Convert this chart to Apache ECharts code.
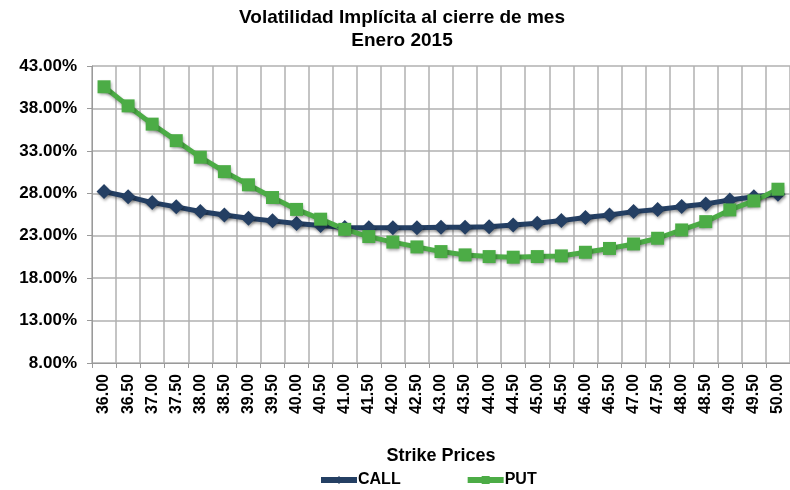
<!DOCTYPE html>
<html><head><meta charset="utf-8">
<script src="https://cdn.jsdelivr.net/npm/echarts@6/dist/echarts.min.js"></script>
<style>html,body{margin:0;padding:0;background:#fff}#c{width:790px;height:490px}</style>
</head><body><div id="c"></div>
<script>
var titleText = 'Volatilidad Implícita al cierre de mes\nEnero 2015';
var xAxisName = 'Strike Prices';
var strikes = ['36.00','36.50','37.00','37.50','38.00','38.50','39.00','39.50','40.00','40.50','41.00','41.50','42.00','42.50','43.00','43.50','44.00','44.50','45.00','45.50','46.00','46.50','47.00','47.50','48.00','48.50','49.00','49.50','50.00'];
var callVals = [28.2,27.6,26.9,26.4,25.85,25.45,25.05,24.75,24.45,24.2,23.98,23.95,23.95,23.95,24.0,24.0,24.07,24.25,24.47,24.78,25.15,25.45,25.84,26.1,26.43,26.75,27.2,27.6,27.9];
var putVals = [40.55,38.3,36.15,34.2,32.25,30.55,29.0,27.5,26.1,24.95,23.75,22.9,22.25,21.68,21.13,20.74,20.54,20.47,20.54,20.62,21.05,21.5,22.03,22.7,23.68,24.66,26.04,27.1,28.48];
var seriesNames = ['CALL','PUT'];
var yMin = 8, yMax = 43, yStep = 5;

var font = 'Liberation Sans, Arial, sans-serif';
var callColor = '#243f63', putColor = '#4cac46';
var chart = echarts.init(document.getElementById('c'));
var shadow = {shadowColor:'rgba(0,0,0,0.35)', shadowBlur:3, shadowOffsetX:1, shadowOffsetY:2};
chart.setOption({
  animation:false,
  title:{text:titleText, left:397, top:1, textAlign:'center',
    textStyle:{fontFamily:font, fontSize:19, fontWeight:'bold', color:'#000', lineHeight:23}},
  legend:{top:467, left:313, itemGap:64, itemWidth:36, itemHeight:10,
    lineStyle:{width:6},
    textStyle:{fontFamily:font, fontSize:16, fontWeight:'bold', color:'#000', padding:[0,0,0,-4]},
    data:seriesNames},
  grid:{left:92, right:-2, top:66, bottom:127},
  xAxis:{type:'category', data:strikes, boundaryGap:true,
    name:xAxisName, nameLocation:'middle', nameGap:84,
    nameTextStyle:{fontFamily:font, fontSize:18, fontWeight:'bold', color:'#000'},
    axisLine:{lineStyle:{color:'#9a9a9a'}},
    axisTick:{show:true, length:5, interval:0, lineStyle:{color:'#9a9a9a'}},
    splitLine:{show:true, interval:0, lineStyle:{color:'#b0b0b0', width:1.5}},
    axisLabel:{rotate:90, interval:0, fontFamily:font, fontSize:16, fontWeight:'bold', color:'#000', margin:11}},
  yAxis:{type:'value', min:yMin, max:yMax, interval:yStep,
    axisLine:{show:true, lineStyle:{color:'#9a9a9a'}},
    axisTick:{show:true, length:5, lineStyle:{color:'#9a9a9a'}},
    splitLine:{show:true, lineStyle:{color:'#b0b0b0', width:1.5}},
    axisLabel:{fontFamily:font, fontSize:17, fontWeight:'bold', color:'#000', margin:15,
      formatter:function(v){return v.toFixed(2)+'%';}}},
  series:[
    {name:seriesNames[0], type:'line', data:callVals, symbol:'diamond', symbolSize:15,
      lineStyle:Object.assign({color:callColor, width:5}, shadow),
      itemStyle:Object.assign({color:callColor}, shadow)},
    {name:seriesNames[1], type:'line', data:putVals, symbol:'rect', symbolSize:13,
      lineStyle:Object.assign({color:putColor, width:5}, shadow),
      itemStyle:Object.assign({color:putColor}, shadow)}
  ]
});
</script></body></html>
